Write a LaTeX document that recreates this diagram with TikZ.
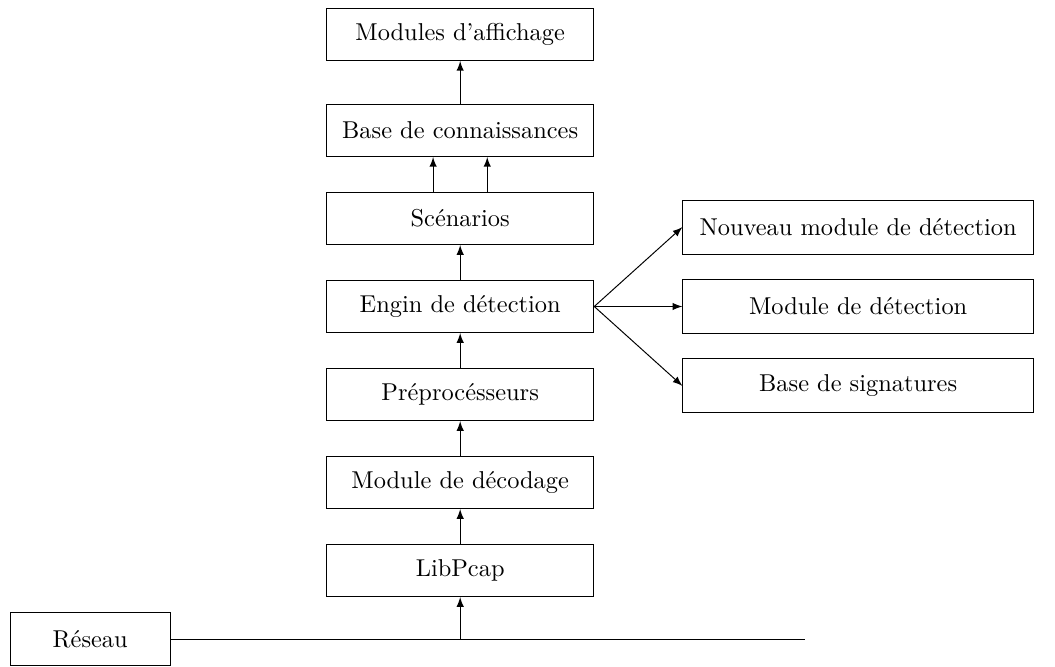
\documentclass[tikz,border=0pt]{standalone}
\usepackage{tikz}
\usetikzlibrary{positioning}

\begin{document}
\begin{tikzpicture}[node distance=0.504cm,>=latex,
  bloc/.style={draw,minimum width=3.85cm,minimum height=0.75cm},
  blocdroit/.style={draw,minimum width=5.05cm,minimum height=0.78cm}]
\useasboundingbox (0,0) rectangle (15.2,9.6);
\node[bloc] (libpcap) at (6.63,1.38) {LibPcap};
\node[bloc,above=of libpcap] (decodage) {Module de décodage};
\node[bloc,above=of decodage] (preproc) {Préprocésseurs};
\node[bloc,above=of preproc] (engin) {Engin de détection};
\node[bloc,above=of engin] (scenarios) {Scénarios};
\node[bloc,above=of scenarios] (connaissances) {Base de connaissances};
\node[bloc,above=0.62cm of connaissances] (affichage) {Modules d'affichage};
\node[blocdroit,right=1.27cm of engin] (detection) {Module de détection};
\node[blocdroit,above=0.35cm of detection] (nouveau) {Nouveau module de détection};
\node[blocdroit,below=0.35cm of detection] (signatures) {Base de signatures};
\node[draw,minimum width=2.3cm,minimum height=0.76cm] (reseau) at (1.3,0.39) {Réseau};
\coordinate (fin) at (11.6,0.39);

\draw (reseau) -- (fin);
\draw[->] (libpcap.south |- reseau) -- (libpcap);
\draw[->] (libpcap) -- (decodage);
\draw[->] (decodage) -- (preproc);
\draw[->] (preproc) -- (engin);
\draw[->] (engin) -- (scenarios);
\draw[->] ([xshift=-0.39cm]scenarios.north) -- ([xshift=-0.39cm]connaissances.south);
\draw[->] ([xshift=0.39cm]scenarios.north) -- ([xshift=0.39cm]connaissances.south);
\draw[->] (connaissances) -- (affichage);
\draw[->] (engin.east) -- (nouveau.west);
\draw[->] (engin.east) -- (detection.west);
\draw[->] (engin.east) -- (signatures.west);
\end{tikzpicture}
\end{document}
